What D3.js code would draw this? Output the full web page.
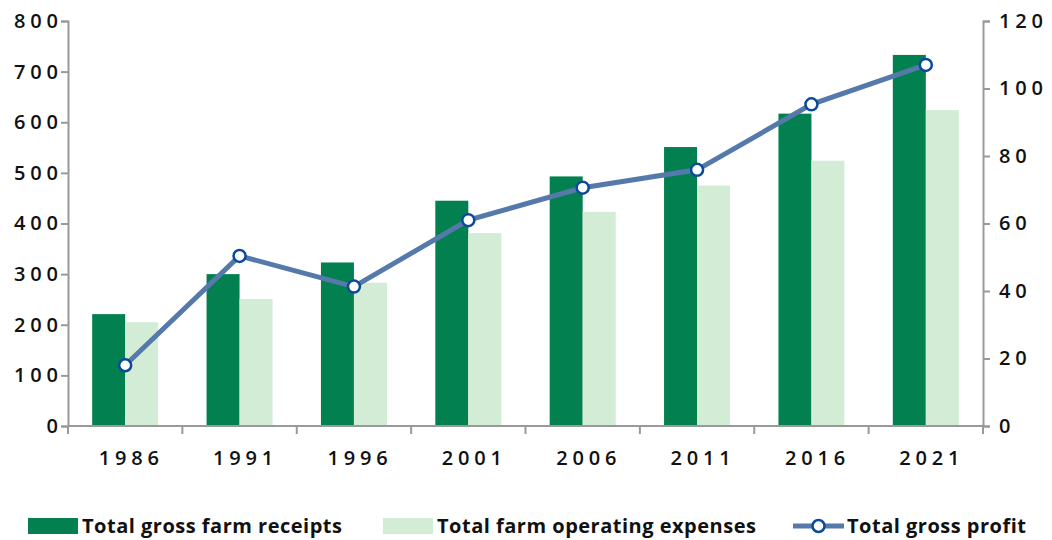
<!DOCTYPE html>
<html>
<head>
<meta charset="utf-8">
<script src="https://cdn.jsdelivr.net/npm/d3@7"></script>
<style>
  body { margin: 0; background: #fff; }
  svg { display: block; }
  .tick text { font-family: "Open Sans", sans-serif; font-weight: 600; font-size: 20px; letter-spacing: 4.8px; fill: #111; }
  .legend text { font-family: "Open Sans", sans-serif; font-weight: 700; font-size: 20px; letter-spacing: 0.5px; fill: #111; }
</style>
</head>
<body>
<svg id="area" width="1052" height="540"></svg>
<script>
const years = ['1986', '1991', '1996', '2001', '2006', '2011', '2016', '2021'];
const receipts = [221, 300, 323, 445, 493, 551, 617, 733];
const expenses = [205, 251, 283, 381, 423, 475, 524, 624];
const profit = [18, 50.4, 41.3, 61, 70.6, 75.9, 95.3, 107];
const leftTicks = [0, 100, 200, 300, 400, 500, 600, 700, 800];
const rightTicks = [0, 20, 40, 60, 80, 100, 120];

const colors = { receipts: '#03804f', expenses: '#d2ecd6', line: '#5679ac', marker: '#0b4a9b' };

const svg = d3.select('#area');
const margin = { top: 21, right: 69, bottom: 114, left: 68 };
const width = 1052 - margin.left - margin.right;
const height = 540 - margin.top - margin.bottom;

const g = svg.append('g').attr('transform', `translate(${margin.left},${margin.top})`);

const x = d3.scaleBand().domain(years).range([0, width]).padding(0);
const x1 = d3.scaleBand().domain(['receipts', 'expenses']).range([0, x.bandwidth()]).paddingOuter(0.733).paddingInner(0);
const yLeft = d3.scaleLinear().domain([0, 800]).range([height, 0]);
const yRight = d3.scaleLinear().domain([0, 120]).range([height, 0]);

const rows = years.map((year, i) => ({ year, receipts: receipts[i], expenses: expenses[i], profit: profit[i] }));

// bars
const groups = g.append('g').selectAll('g')
  .data(rows)
  .join('g')
  .attr('transform', (d) => `translate(${x(d.year)},0)`);

groups.selectAll('rect')
  .data((d) => ['receipts', 'expenses'].map((k) => ({ key: k, value: d[k] })))
  .join('rect')
  .attr('x', (d) => x1(d.key))
  .attr('width', x1.bandwidth())
  .attr('y', (d) => yLeft(d.value))
  .attr('height', (d) => height - yLeft(d.value))
  .attr('fill', (d) => colors[d.key]);

// axes
const styleAxis = (sel) => {
  sel.select('.domain').attr('stroke', '#999').attr('stroke-width', 2);
  sel.selectAll('.tick line').attr('stroke', '#999').attr('stroke-width', 2);
};

g.append('g')
  .call(d3.axisLeft(yLeft).tickValues(leftTicks).tickSize(7).tickSizeOuter(7).tickPadding(3))
  .call(styleAxis)
  .call((s) => s.selectAll('.tick text').attr('dx', '4.8px'));

g.append('g')
  .attr('transform', `translate(${width},0)`)
  .call(d3.axisRight(yRight).tickValues(rightTicks).tickSize(7).tickSizeOuter(7).tickPadding(9))
  .call(styleAxis);

const xAxis = g.append('g')
  .attr('transform', `translate(0,${height})`)
  .call(d3.axisBottom(x).tickSize(0).tickPadding(25))
  .call(styleAxis);
xAxis.select('.domain').attr('d', `M0,0H${width}`);
xAxis.selectAll('.tick text').attr('dx', '6px');

// category separators
g.append('g')
  .selectAll('line')
  .data(years.concat(['end']))
  .join('line')
  .attr('x1', (d, i) => i * x.step())
  .attr('x2', (d, i) => i * x.step())
  .attr('y1', height)
  .attr('y2', height + 8)
  .attr('stroke', '#999')
  .attr('stroke-width', 2);

// profit line
const line = d3.line()
  .x((d) => x(d.year) + x.bandwidth() / 2)
  .y((d) => yRight(d.profit));

g.append('path')
  .datum(rows)
  .attr('d', line)
  .attr('fill', 'none')
  .attr('stroke', colors.line)
  .attr('stroke-width', 5);

g.append('g')
  .selectAll('circle')
  .data(rows)
  .join('circle')
  .attr('cx', (d) => x(d.year) + x.bandwidth() / 2)
  .attr('cy', (d) => yRight(d.profit))
  .attr('r', 6)
  .attr('fill', '#fff')
  .attr('stroke', colors.marker)
  .attr('stroke-width', 2.5);

// legend
const legend = svg.append('g').attr('class', 'legend').attr('transform', 'translate(0,526)');
const items = [
  { label: 'Total gross farm receipts', type: 'rect', color: colors.receipts, x: 28 },
  { label: 'Total farm operating expenses', type: 'rect', color: colors.expenses, x: 383 },
  { label: 'Total gross profit', type: 'line', color: colors.line, x: 793 },
];

items.forEach((it) => {
  const item = legend.append('g').attr('transform', `translate(${it.x},0)`);
  if (it.type === 'rect') {
    item.append('rect').attr('x', 0).attr('y', -8).attr('width', 50).attr('height', 16).attr('fill', it.color);
  } else {
    item.append('line').attr('x1', 0).attr('x2', 51).attr('y1', 0).attr('y2', 0)
      .attr('stroke', it.color).attr('stroke-width', 5);
    item.append('circle').attr('cx', 25.5).attr('cy', 0).attr('r', 6)
      .attr('fill', '#fff').attr('stroke', colors.marker).attr('stroke-width', 2.5);
  }
  item.append('text').attr('x', 54).attr('y', 0).attr('dy', '0.36em').text(it.label);
});
</script>
</body>
</html>
